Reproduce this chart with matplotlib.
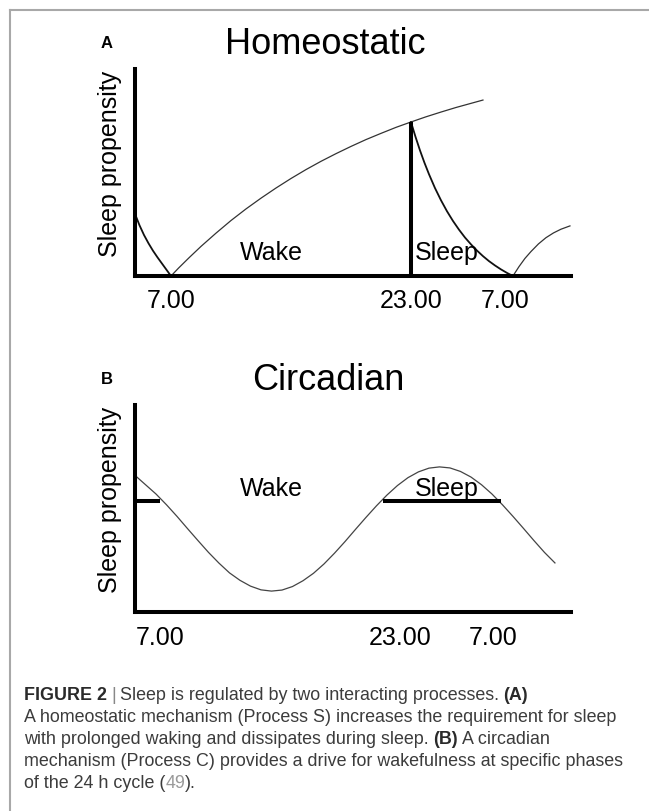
import matplotlib
matplotlib.use("Agg")
import matplotlib.pyplot as plt
from matplotlib.lines import Line2D

plt.rcParams["font.family"] = ["Liberation Sans", "DejaVu Sans"]

# Panel A: homeostatic process (x = clock hours on a schematic axis, y = propensity)
a_decay1_x = [4.6, 4.9, 5.2, 5.5, 5.8, 6.1, 6.4, 6.7, 7.0]
a_decay1_y = [0.30, 0.245, 0.198, 0.158, 0.122, 0.09, 0.06, 0.03, 0.0]
a_wake_x = [7.0, 7.5, 8.2, 9.0, 10, 11, 12, 13, 14, 15, 16, 17, 18, 19, 20, 21, 22, 23,
            24, 25, 26, 27, 27.8]
a_wake_y = [0.0, 0.038, 0.088, 0.143, 0.207, 0.268, 0.324, 0.376, 0.425, 0.471, 0.514,
            0.554, 0.591, 0.626, 0.659, 0.689, 0.718, 0.744, 0.769, 0.792, 0.814, 0.834, 0.850]
a_sleep_x = [23.0, 23.3, 23.6, 23.9, 24.2, 24.6, 25.0, 25.4, 25.8, 26.2, 26.6, 27.0, 27.4,
             27.8, 28.2, 28.6, 29.0, 29.4, 29.8]
a_sleep_y = [0.744, 0.673, 0.607, 0.547, 0.492, 0.425, 0.366, 0.313, 0.266, 0.224, 0.186,
             0.153, 0.123, 0.096, 0.072, 0.051, 0.032, 0.015, 0.0]
a_wake2_x = [29.8, 30.2, 30.6, 31.0, 31.5, 32.0, 32.5, 33.0, 33.6]
a_wake2_y = [0.0, 0.045, 0.085, 0.118, 0.155, 0.185, 0.208, 0.226, 0.242]
a_sleep_onset = 23.0
a_ticks = [7.0, 23.0, 29.3]

# Panel B: circadian process
b_x = [4.6, 5.3, 6.0, 6.7, 7.4, 8.1, 8.8, 9.5, 10.2, 10.9, 11.6, 12.3, 13.0, 13.7, 14.4,
       15.1, 15.8, 16.5, 17.2, 17.9, 18.6, 19.3, 20.0, 20.7, 21.4, 22.1, 22.8, 23.5, 24.2,
       24.9, 25.6, 26.3, 27.0, 27.7, 28.4, 29.1, 29.8, 30.5, 31.2, 31.9, 32.6]
b_y = [0.660, 0.615, 0.570, 0.518, 0.462, 0.403, 0.345, 0.288, 0.236, 0.189, 0.153, 0.125,
       0.107, 0.101, 0.106, 0.123, 0.151, 0.187, 0.232, 0.284, 0.340, 0.399, 0.457, 0.513,
       0.565, 0.611, 0.649, 0.677, 0.695, 0.701, 0.696, 0.679, 0.652, 0.615, 0.570, 0.518,
       0.462, 0.404, 0.345, 0.288, 0.237]
b_threshold = 0.536
b_bar1 = [4.6, 6.27]
b_bar2 = [21.13, 29.0]
b_ticks = [6.3, 22.3, 28.5]

tick_labels = ["7.00", "23.00", "7.00"]
x_range = (4.6, 33.67)

W, H = 649, 812


def achse_stylen(ax, ticks, pad):
    ax.set_xlim(*x_range)
    ax.set_ylim(0, 1)
    for s in ["top", "right"]:
        ax.spines[s].set_visible(False)
    for s in ["left", "bottom"]:
        ax.spines[s].set_linewidth(2.9)
        ax.spines[s].set_color("black")
    ax.set_yticks([])
    ax.set_xticks(ticks, tick_labels)
    ax.tick_params(axis="x", length=0, pad=pad, labelsize=18)
    ax.set_ylabel("Sleep propensity", fontsize=18)
    ax.yaxis.set_label_coords(-0.03, 0.545)
    ax.patch.set_alpha(0)


def panel_a(fig):
    ax = fig.add_axes([135 / W, 1 - 277 / H, 436 / W, 207 / H])
    ax.plot(a_decay1_x, a_decay1_y, color="#111111", lw=1.3)
    ax.plot(a_wake_x, a_wake_y, color="#333333", lw=0.9)
    ax.plot(a_sleep_x, a_sleep_y, color="#111111", lw=1.3)
    ax.plot(a_wake2_x, a_wake2_y, color="#333333", lw=0.9)
    ax.vlines(a_sleep_onset, 0, a_wake_y[a_wake_x.index(a_sleep_onset)], color="black", lw=2.9)
    ax.text(13.7, 0.116, "Wake", fontsize=18, ha="center", va="center")
    ax.text(25.4, 0.116, "Sleep", fontsize=18, ha="center", va="center")
    achse_stylen(ax, a_ticks, 9)
    fig.text(325 / W, 1 - 54 / H, "Homeostatic", fontsize=26, ha="center", va="baseline")
    fig.text(107 / W, 1 - 48 / H, "A", fontsize=12, fontweight="bold", ha="center", va="baseline")


def panel_b(fig):
    ax = fig.add_axes([135 / W, 1 - 613 / H, 436 / W, 207 / H])
    ax.plot(b_x, b_y, color="#444444", lw=0.9)
    ax.hlines(b_threshold, *b_bar1, color="black", lw=2.9)
    ax.hlines(b_threshold, *b_bar2, color="black", lw=2.9)
    ax.text(13.7, 0.60, "Wake", fontsize=18, ha="center", va="center")
    ax.text(25.4, 0.60, "Sleep", fontsize=18, ha="center", va="center")
    achse_stylen(ax, b_ticks, 9.5)
    fig.text(328 / W, 1 - 390 / H, "Circadian", fontsize=26, ha="center", va="baseline")
    fig.text(107 / W, 1 - 384 / H, "B", fontsize=12, fontweight="bold", ha="center", va="baseline")


def rahmen(fig):
    grau = "#a8a8a8"
    fig.add_artist(Line2D([10 / W, 10 / W], [0, 1 - 11 / H], color=grau, lw=1.5))
    fig.add_artist(Line2D([10 / W, 1], [1 - 11 / H, 1 - 11 / H], color=grau, lw=1.5))


def legende_text(fig):
    cap = fig.add_axes([0, 0, 1, 1])
    cap.axis("off")
    cap.set_xlim(0, W)
    cap.set_ylim(H, 0)
    dunkel = "#3c3c3c"
    groesse = 12.9
    zeilen = [
        [("FIGURE 2", "bold", "#2a2a2a", 0), ("|", "normal", "#888888", 3),
         ("Sleep is regulated by two interacting processes.", "normal", dunkel, 3),
         ("(A)", "bold", "#2a2a2a", 3)],
        [("A homeostatic mechanism (Process S) increases the requirement for sleep", "normal", dunkel, 0)],
        [("with prolonged waking and dissipates during sleep.", "normal", dunkel, 0),
         ("(B)", "bold", "#2a2a2a", 3), ("A circadian", "normal", dunkel, 3)],
        [("mechanism (Process C) provides a drive for wakefulness at specific phases", "normal", dunkel, 0)],
        [("of the 24 h cycle (", "normal", dunkel, 0), ("49", "normal", "#9a9a9a", 0),
         (").", "normal", dunkel, 0)],
    ]
    y0 = 704
    for i, teile in enumerate(zeilen):
        prev = None
        for txt, weight, farbe, gap in teile:
            if prev is None:
                prev = cap.text(24, y0 + i * 22, txt, fontsize=groesse, fontweight=weight,
                                color=farbe, ha="left", va="bottom")
            else:
                prev = cap.annotate(txt, xy=(1, 0), xycoords=prev, xytext=(gap, 0),
                                    textcoords="offset points", fontsize=groesse,
                                    fontweight=weight, color=farbe, ha="left", va="bottom")


def main():
    fig = plt.figure(figsize=(W / 100, H / 100), dpi=100)
    rahmen(fig)
    panel_a(fig)
    panel_b(fig)
    legende_text(fig)
    fig.savefig("out.png", dpi=100)


if __name__ == "__main__":
    main()
